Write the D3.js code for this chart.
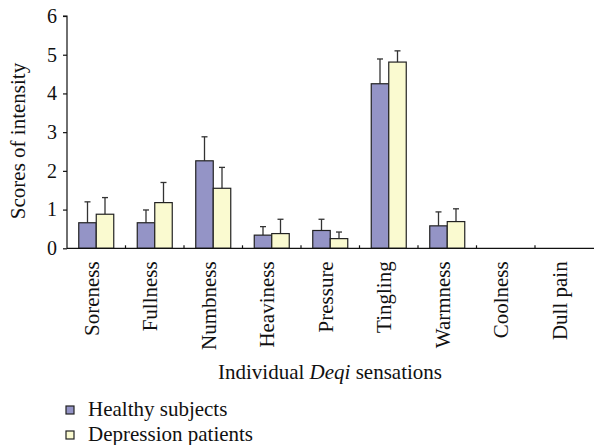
<!DOCTYPE html>
<html><head><meta charset="utf-8">
<script src="https://cdn.jsdelivr.net/npm/d3@7"></script>
<style>body{margin:0;background:#fff}svg{display:block}text{font-family:"Liberation Serif","Times New Roman",serif;fill:#111}</style>
</head><body><div id="chart"></div>
<script>
const categories = ["Soreness","Fullness","Numbness","Heaviness","Pressure","Tingling","Warmness","Coolness","Dull pain"];
const seriesNames = ["Healthy subjects","Depression patients"];
const healthy = [0.66,0.66,2.26,0.34,0.46,4.25,0.58,0,0];
const healthyErr = [0.54,0.33,0.62,0.22,0.29,0.64,0.36,0,0];
const depression = [0.88,1.18,1.55,0.38,0.25,4.81,0.69,0,0];
const depressionErr = [0.43,0.52,0.54,0.37,0.17,0.29,0.33,0,0];
const yTicks = [0,1,2,3,4,5,6];
const colors = ["#9494c6","#fafad0"];

const W=594,H=445;
const svg=d3.select("#chart").append("svg").attr("width",W).attr("height",H);
const mLeft=67,mRight=593.5,mTop=16,mBottom=248.3;
const x=d3.scaleBand().domain(categories).range([mLeft,mRight]);
const xs=d3.scaleBand().domain(seriesNames).range([0,35]);
const y=d3.scaleLinear().domain([0,6]).range([mBottom,mTop]);

const data=categories.map((c,i)=>({c,vals:[
 {s:seriesNames[0],v:healthy[i],e:healthyErr[i]},
 {s:seriesNames[1],v:depression[i],e:depressionErr[i]}]}));

const g=svg.append("g").selectAll("g").data(data).join("g")
 .attr("transform",d=>`translate(${x(d.c)+x.bandwidth()/2-17.5},0)`);
// error bars
g.selectAll("g.err").data(d=>d.vals.filter(v=>v.v>0)).join("g").attr("class","err").each(function(d){
 const gg=d3.select(this), cx=xs(d.s)+xs.bandwidth()/2;
 gg.append("line").attr("x1",cx).attr("x2",cx).attr("y1",y(d.v)).attr("y2",y(d.v+d.e)).attr("stroke","#333").attr("stroke-width",1.3);
 gg.append("line").attr("x1",cx-3).attr("x2",cx+3).attr("y1",y(d.v+d.e)).attr("y2",y(d.v+d.e)).attr("stroke","#333").attr("stroke-width",1.3);
});
g.selectAll("rect").data(d=>d.vals.filter(v=>v.v>0)).join("rect")
 .attr("x",d=>xs(d.s)).attr("width",xs.bandwidth())
 .attr("y",d=>y(d.v)).attr("height",d=>y(0)-y(d.v))
 .attr("fill",(d,i)=>colors[seriesNames.indexOf(d.s)]).attr("stroke","#222").attr("stroke-width",1.2);

// y axis
const ya=svg.append("g").attr("transform",`translate(${mLeft},0)`)
 .call(d3.axisLeft(y).tickValues(yTicks).tickSize(4).tickPadding(6).tickFormat(d3.format("d")));
ya.attr("font-family",null);
ya.select(".domain").attr("d",`M-4,${mTop}H0V${mBottom}`).attr("stroke","#111").attr("stroke-width",1.2);
ya.selectAll(".tick line").attr("stroke","#111").attr("stroke-width",1.2);
ya.selectAll("text").attr("font-size",20).attr("fill","#111");

// x axis
const xa=svg.append("g").attr("transform",`translate(0,${mBottom})`);
xa.append("line").attr("x1",mLeft).attr("x2",W).attr("y1",0).attr("y2",0).attr("stroke","#111").attr("stroke-width",1.2);
xa.selectAll("line.tk").data(categories.slice(1)).join("line").attr("class","tk")
 .attr("x1",d=>x(d)).attr("x2",d=>x(d)).attr("y1",0).attr("y2",-3).attr("stroke","#111").attr("stroke-width",1.2);
xa.selectAll("text").data(categories).join("text")
 .attr("transform",d=>`translate(${x(d)+x.bandwidth()/2+2.5},${13}) rotate(-90)`)
 .attr("text-anchor","end").attr("font-size",21).text(d=>d);

// axis titles
svg.append("text").attr("transform","translate(25,141) rotate(-90)").attr("text-anchor","middle").attr("font-size",21).text("Scores of intensity");
const xt=svg.append("text").attr("x",330).attr("y",379).attr("text-anchor","middle").attr("font-size",21);
xt.append("tspan").text("Individual ");
xt.append("tspan").attr("font-style","italic").text("Deqi");
xt.append("tspan").text(" sensations");

// legend
const lg=svg.append("g").selectAll("g").data(seriesNames).join("g")
 .attr("transform",(d,i)=>`translate(66,${406+i*25})`);
lg.append("rect").attr("width",8).attr("height",8).attr("fill",(d,i)=>colors[i]).attr("stroke","#222").attr("stroke-width",1.2);
lg.append("text").attr("x",22).attr("y",10).attr("font-size",21).text(d=>d);
</script></body></html>
